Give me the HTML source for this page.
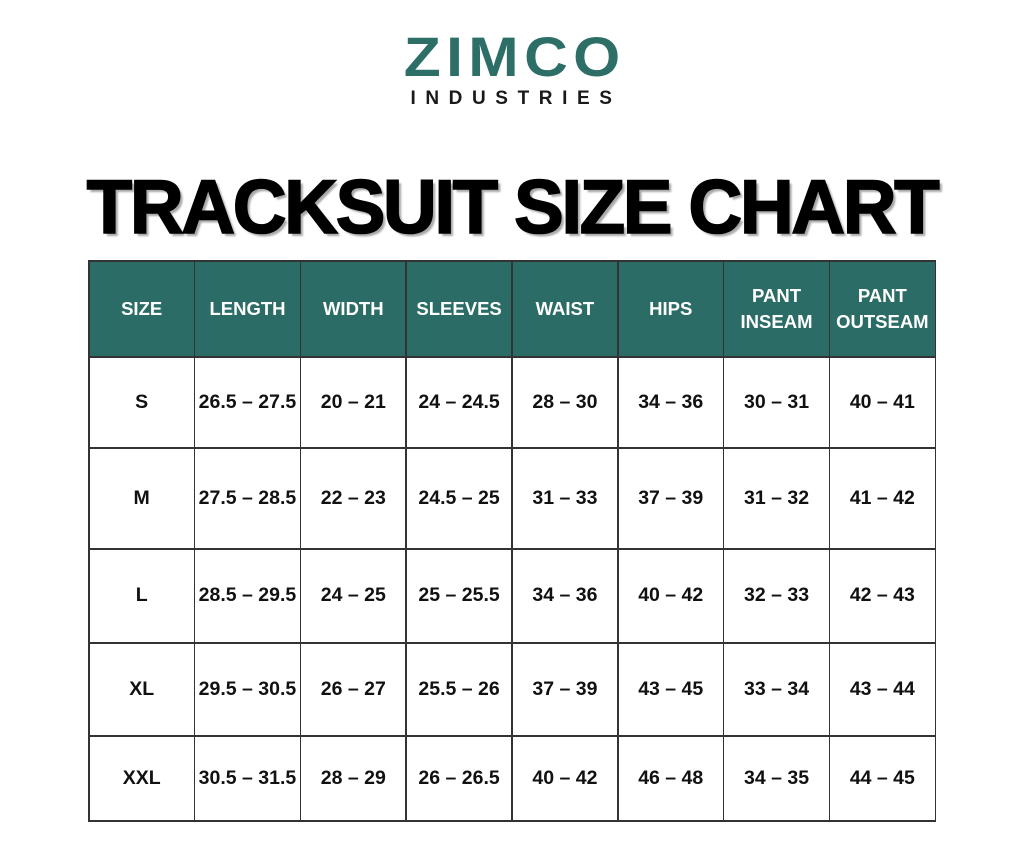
<!DOCTYPE html>
<html>
<head>
<meta charset="utf-8">
<style>
  html, body { margin:0; padding:0; }
  body { width:1024px; height:853px; background:#ffffff; position:relative; overflow:hidden; font-family:"Liberation Sans", sans-serif; }
  .logo { position:absolute; left:0; width:1024px; text-align:center; }
  .zimco { top:27px; font-size:56px; font-weight:bold; color:#2d6e67; letter-spacing:5px; line-height:60px; transform:scaleX(1.08); padding-left:5px; box-sizing:border-box; }
  .ind { top:88px; font-size:19px; font-weight:bold; color:#1a1a1a; letter-spacing:9.6px; line-height:22px; padding-left:8px; box-sizing:border-box; }
  .title { position:absolute; left:0; width:1024px; top:168px; text-align:center; font-size:76px; font-weight:bold; line-height:80px; color:#000; letter-spacing:-2.5px; -webkit-text-stroke:1.6px #000; text-shadow:3px 3px 2px #a8a8a8; transform:scaleX(0.982); }
  .grid { position:absolute; left:88px; top:260px; width:848px; background:#333; padding:1.5px; box-sizing:border-box; display:grid; grid-template-columns:repeat(8,1fr); grid-template-rows:94.5px 89.5px 99.5px 92.5px 91.5px 83.5px; gap:1.5px; }
  .grid div { background:#fff; display:flex; align-items:center; justify-content:center; text-align:center; font-weight:bold; font-size:19.5px; color:#111; white-space:nowrap; }
  .grid div.h { background:#2b6d66; color:#fff; font-size:18.5px; line-height:26px; }
</style>
</head>
<body>
  <div class="logo zimco">ZIMCO</div>
  <div class="logo ind">INDUSTRIES</div>
  <div class="title">TRACKSUIT SIZE CHART</div>
  <div class="grid">
    <div class="h">SIZE</div><div class="h">LENGTH</div><div class="h">WIDTH</div><div class="h">SLEEVES</div><div class="h">WAIST</div><div class="h">HIPS</div><div class="h">PANT<br>INSEAM</div><div class="h">PANT<br>OUTSEAM</div>
    <div>S</div><div>26.5 – 27.5</div><div>20 – 21</div><div>24 – 24.5</div><div>28 – 30</div><div>34 – 36</div><div>30 – 31</div><div>40 – 41</div>
    <div>M</div><div>27.5 – 28.5</div><div>22 – 23</div><div>24.5 – 25</div><div>31 – 33</div><div>37 – 39</div><div>31 – 32</div><div>41 – 42</div>
    <div>L</div><div>28.5 – 29.5</div><div>24 – 25</div><div>25 – 25.5</div><div>34 – 36</div><div>40 – 42</div><div>32 – 33</div><div>42 – 43</div>
    <div>XL</div><div>29.5 – 30.5</div><div>26 – 27</div><div>25.5 – 26</div><div>37 – 39</div><div>43 – 45</div><div>33 – 34</div><div>43 – 44</div>
    <div>XXL</div><div>30.5 – 31.5</div><div>28 – 29</div><div>26 – 26.5</div><div>40 – 42</div><div>46 – 48</div><div>34 – 35</div><div>44 – 45</div>
  </div>
</body>
</html>
